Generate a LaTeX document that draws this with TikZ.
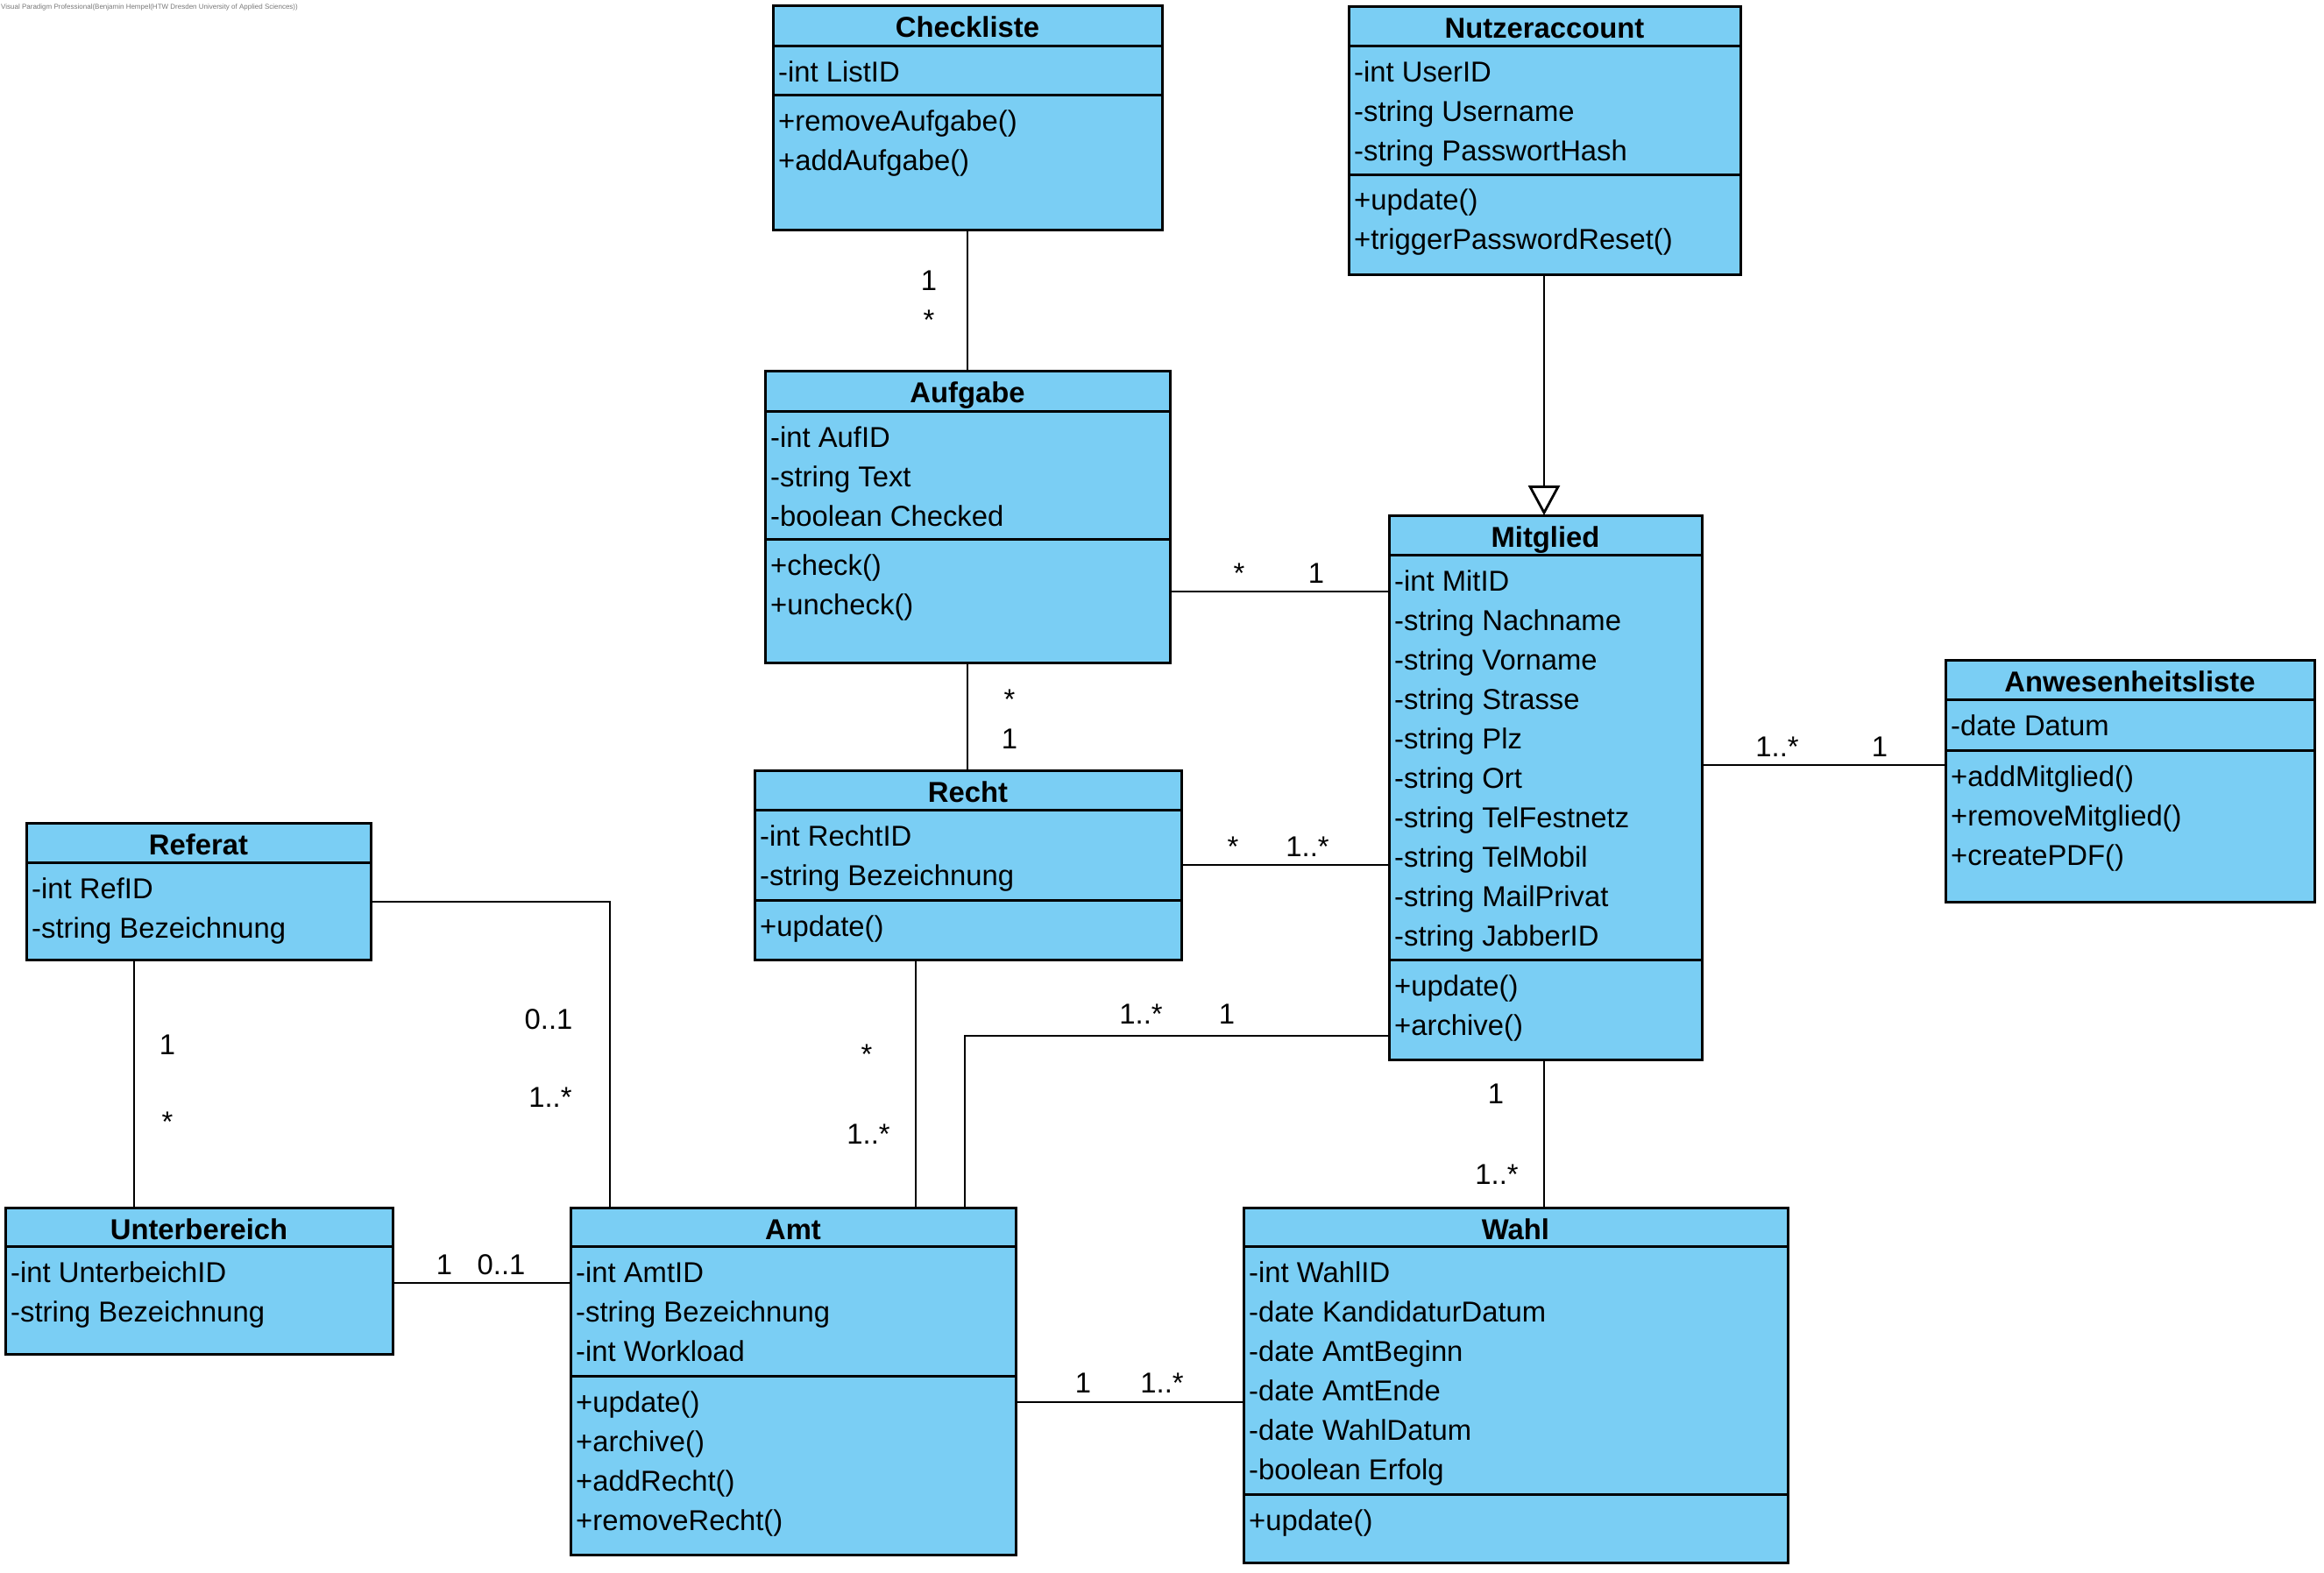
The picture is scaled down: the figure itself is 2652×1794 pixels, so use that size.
\documentclass[tikz,border=0pt]{standalone}
\usepackage{fontspec}
\setmainfont{Liberation Sans}
\usetikzlibrary{arrows.meta}
\definecolor{classfill}{RGB}{122,206,244}
\definecolor{creditgrey}{RGB}{120,120,120}

% #1 name, #2 left, #3 top, #4 right, #5 bottom, #6 first divider, #7 second divider (may be empty), #8 class name
\newcommand\umlclass[8]{%
  \node[classbox, minimum width={#4-#2}, minimum height={#5-#3}, anchor=north west] (#1) at (#2,#3) {};
  \draw[divider] (#1.west |- 0,#6) -- (#1.east |- 0,#6);
  \if\relax\detokenize{#7}\relax\else
    \draw[divider] (#1.west |- 0,#7) -- (#1.east |- 0,#7);
  \fi
  \node[classname] (#1-name) at ({(#2+#4)/2},{#3+36}) {#8};
}
% #1 prefix for node names, #2 left x of text, #3 first baseline, #4 list of rows
\newcommand\umlrows[4]{%
  \foreach \rowtext [count=\k from 0] in {#4} {
    \node[member] (#1-\k) at (#2,{#3+45*\k}) {\rowtext};
  }
}

\begin{document}
\begin{tikzpicture}[x=1pt,y=-1pt,
  classbox/.style={draw, fill=classfill, line width=3pt, rectangle, inner sep=0pt, outer sep=0pt},
  divider/.style={line width=3pt},
  classname/.style={font=\fontsize{32.8}{40}\selectfont\bfseries, anchor=base, inner sep=0pt},
  member/.style={font=\fontsize{32.8}{40}\selectfont, anchor=base west, inner sep=0pt},
  mult/.style={font=\fontsize{32.8}{40}\selectfont, anchor=base, inner sep=0pt},
  assoc/.style={line width=2.8pt},
  generalization/.style={line width=2.8pt, -{Triangle[length=34pt,width=36pt,fill=white]}},
  credit/.style={font=\fontsize{8}{9}\selectfont, text=creditgrey, anchor=base west, inner sep=0pt},
]
\useasboundingbox (0,0) rectangle (2652,1794);

\node[credit] (credit) at (1,10) {Visual Paradigm Professional(Benjamin Hempel(HTW Dresden University of Applied Sciences))};

% ---- classes ----
\umlclass{chk}{882}{6}{1326}{262}{52}{108}{Checkliste}
\umlrows{chk-a}{888}{93}{-int ListID}
\umlrows{chk-m}{888}{149}{+removeAufgabe(),+addAufgabe()}

\umlclass{nutzer}{1539}{7}{1986}{313}{52}{199}{Nutzeraccount}
\umlrows{nutzer-a}{1545}{93}{-int UserID,-string Username,-string PasswortHash}
\umlrows{nutzer-m}{1545}{239}{+update(),+triggerPasswordReset()}

\umlclass{aufg}{873}{423}{1335}{756}{469}{615}{Aufgabe}
\umlrows{aufg-a}{879}{510}{-int AufID,-string Text,-boolean Checked}
\umlrows{aufg-m}{879}{656}{+check(),+uncheck()}

\umlclass{mitg}{1585}{588}{1942}{1209}{633}{1095}{Mitglied}
\umlrows{mitg-a}{1591}{674}{-int MitID,-string Nachname,-string Vorname,-string Strasse,-string Plz,-string Ort,-string TelFestnetz,-string TelMobil,-string MailPrivat,-string JabberID}
\umlrows{mitg-m}{1591}{1136}{+update(),+archive()}

\umlclass{anw}{2220}{753}{2641}{1029}{798}{856}{Anwesenheitsliste}
\umlrows{anw-a}{2226}{839}{-date Datum}
\umlrows{anw-m}{2226}{897}{+addMitglied(),+removeMitglied(),+createPDF()}

\umlclass{recht}{861}{879}{1348}{1095}{924}{1027}{Recht}
\umlrows{recht-a}{867}{965}{-int RechtID,-string Bezeichnung}
\umlrows{recht-m}{867}{1068}{+update()}

\umlclass{referat}{30}{939}{423}{1095}{984}{}{Referat}
\umlrows{referat-a}{36}{1025}{-int RefID,-string Bezeichnung}

\umlclass{unter}{6}{1378}{448}{1545}{1422}{}{Unterbereich}
\umlrows{unter-a}{12}{1463}{-int UnterbeichID,-string Bezeichnung}

\umlclass{amt}{651}{1378}{1159}{1774}{1422}{1570}{Amt}
\umlrows{amt-a}{657}{1463}{-int AmtID,-string Bezeichnung,-int Workload}
\umlrows{amt-m}{657}{1611}{+update(),+archive(),+addRecht(),+removeRecht()}

\umlclass{wahl}{1419}{1378}{2040}{1783}{1422}{1705}{Wahl}
\umlrows{wahl-a}{1425}{1463}{-int WahlID,-date KandidaturDatum,-date AmtBeginn,-date AmtEnde,-date WahlDatum,-boolean Erfolg}
\umlrows{wahl-m}{1425}{1746}{+update()}

% ---- routing helpers ----
\coordinate (colA) at (1104,0);
\coordinate (colN) at (1762,0);
\coordinate (colRA) at (1045,0);
\coordinate (colMA) at (1101,0);
\coordinate (colRU) at (153,0);
\coordinate (colRF) at (696,0);
\coordinate (lvAM) at (0,675);
\coordinate (lvMW) at (0,873);
\coordinate (lvMA) at (0,1182);
\coordinate (lvAW) at (0,1600);
\coordinate (lvRF) at (0,1029);
\coordinate (lvUA) at (0,1464);

% ---- connectors ----
\draw[assoc] (chk.south -| colA) -- (aufg.north -| colA);
\draw[generalization] (nutzer.south -| colN) -- (mitg.north -| colN);
\draw[assoc] (aufg.east |- lvAM) -- (mitg.west |- lvAM);
\draw[assoc] (aufg.south -| colA) -- (recht.north -| colA);
\draw[assoc] (recht.east) -- (recht.east -| mitg.west);
\draw[assoc] (mitg.east |- lvMW) -- (anw.west |- lvMW);
\draw[assoc] (recht.south -| colRA) -- (amt.north -| colRA);
\draw[assoc] (mitg.west |- lvMA) -| (amt.north -| colMA);
\draw[assoc] (mitg.south -| colN) -- (wahl.north -| colN);
\draw[assoc] (amt.east |- lvAW) -- (wahl.west |- lvAW);
\draw[assoc] (referat.south -| colRU) -- (unter.north -| colRU);
\draw[assoc] (referat.east |- lvRF) -| (amt.north -| colRF);
\draw[assoc] (unter.east |- lvUA) -- (amt.west |- lvUA);

% ---- multiplicities ----
\node[mult] (mul-ca1) at (1060,331) {1};
\node[mult] (mul-ca2) at (1060,376) {*};
\node[mult] (mul-am1) at (1414,665) {*};
\node[mult] (mul-am2) at (1502,665) {1};
\node[mult] (mul-ar1) at (1152,809) {*};
\node[mult] (mul-ar2) at (1152,854) {1};
\node[mult] (mul-rm1) at (1407,977) {*};
\node[mult] (mul-rm2) at (1492,977) {1..*};
\node[mult] (mul-mw1) at (2028,863) {1..*};
\node[mult] (mul-mw2) at (2145,863) {1};
\node[mult] (mul-ma1) at (1302,1168) {1..*};
\node[mult] (mul-ma2) at (1400,1168) {1};
\node[mult] (mul-ra1) at (989,1214) {*};
\node[mult] (mul-ra2) at (991,1305) {1..*};
\node[mult] (mul-mwa1) at (1707,1259) {1};
\node[mult] (mul-mwa2) at (1708,1351) {1..*};
\node[mult] (mul-aw1) at (1236,1589) {1};
\node[mult] (mul-aw2) at (1326,1589) {1..*};
\node[mult] (mul-ru1) at (191,1203) {1};
\node[mult] (mul-ru2) at (191,1291) {*};
\node[mult] (mul-rf1) at (626,1174) {0..1};
\node[mult] (mul-rf2) at (628,1263) {1..*};
\node[mult] (mul-ua1) at (507,1454) {1};
\node[mult] (mul-ua2) at (572,1454) {0..1};
\end{tikzpicture}
\end{document}
